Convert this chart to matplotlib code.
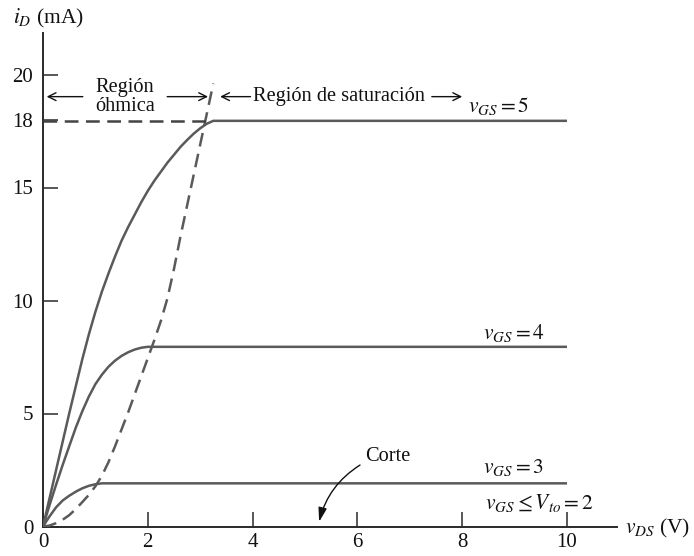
import matplotlib
matplotlib.use("Agg")
import matplotlib.pyplot as plt

plt.rcParams['font.family'] = ['Liberation Serif', 'DejaVu Serif']
plt.rcParams['mathtext.fontset'] = 'stix'

# ---- data ----
vds_5 = [0, 0.125, 0.25, 0.375, 0.5, 0.625, 0.75, 0.875, 1.0, 1.125, 1.25, 1.375, 1.5,
         1.625, 1.75, 1.875, 2.0, 2.125, 2.25, 2.375, 2.5, 2.625, 2.75, 2.875, 3.0,
         3.125, 3.25, 10]
id_5 = [0, 1.25, 2.5, 3.75, 5.0, 6.2, 7.4, 8.5, 9.5, 10.4, 11.2, 11.95, 12.65,
        13.25, 13.8, 14.35, 14.85, 15.3, 15.7, 16.1, 16.45, 16.8, 17.1, 17.38, 17.62,
        17.82, 17.95, 17.95]

vds_4 = [0, 0.125, 0.25, 0.375, 0.5, 0.625, 0.75, 0.875, 1.0, 1.125, 1.25, 1.375,
         1.5, 1.625, 1.75, 1.875, 2.0, 10]
id_4 = [0, 0.95, 1.85, 2.72, 3.55, 4.37, 5.1, 5.75, 6.3, 6.72, 7.07, 7.34,
        7.55, 7.71, 7.83, 7.91, 7.95, 7.95]

vds_3 = [0, 0.125, 0.25, 0.375, 0.5, 0.625, 0.75, 0.875, 1.0, 1.125, 10]
id_3 = [0, 0.45, 0.85, 1.15, 1.36, 1.54, 1.69, 1.8, 1.87, 1.91, 1.91]

vds_edge = [0, 0.125, 0.25, 0.375, 0.5, 0.625, 0.75, 0.875, 1.0, 1.125, 1.25, 1.375,
            1.5, 1.625, 1.75, 1.875, 2.0, 2.125, 2.25, 2.375, 2.5, 2.625, 2.75, 2.875,
            3.0, 3.125, 3.25]
id_edge = [0, 0.04, 0.15, 0.3, 0.5, 0.77, 1.08, 1.4, 1.78, 2.25, 2.85, 3.55,
           4.3, 5.05, 5.85, 6.65, 7.45, 8.25, 9.1, 10.1, 11.4, 12.85, 14.2, 15.55,
           16.9, 18.25, 19.6]

sat_line_x = [0, 3.2]
sat_line_y = [17.95, 17.95]

x_ticks = [0, 2, 4, 6, 8, 10]
y_ticks = [0, 5, 10, 15, 18, 20]

curve_labels = [r'$v_{GS} = 5$', r'$v_{GS} = 4$', r'$v_{GS} = 3$', r'$v_{GS} \leq V_{to} = 2$']

# ---- figure ----
W, H = 694, 556
fig = plt.figure(figsize=(W / 100, H / 100), dpi=100)
fig.patch.set_facecolor('white')
ax = fig.add_axes([43 / W, (H - 526.5) / H, (617 - 43) / W, (526.5 - 33) / H])
ax.set_xlim(0, (617 - 43) / 52.4)
ax.set_ylim(0, (526.5 - 33) / 22.6)

for s in ['top', 'right']:
    ax.spines[s].set_visible(False)
for s in ['left', 'bottom']:
    ax.spines[s].set_linewidth(1.4)
    ax.spines[s].set_color('#2a2a2a')

curve_color = '#5a5a5a'
lw = 1.8
for xs, ys in [(vds_5, id_5), (vds_4, id_4), (vds_3, id_3)]:
    ax.plot(xs, ys, color=curve_color, lw=lw, solid_capstyle='butt',
            solid_joinstyle='round', zorder=3)

ax.plot(vds_edge, id_edge, color=curve_color, lw=lw, dashes=(5.5, 3.0), zorder=3)
ax.plot(sat_line_x, sat_line_y, color='#444444', lw=lw, dashes=(5.5, 3.0), zorder=3)

ax.set_xticks(x_ticks)
ax.set_yticks(y_ticks)
ax.set_xticklabels([str(t) for t in x_ticks])
ax.set_yticklabels([str(t) for t in y_ticks])
ax.tick_params(axis='both', direction='in', length=10.8, width=1.1, color='#2a2a2a',
               labelsize=15, labelcolor='#111111')
ax.tick_params(axis='x', pad=5)
ax.tick_params(axis='y', pad=7)

fs = 14.7
fm = 15.5
tc = '#111111'
# curve labels
ax.text(8.11, 18.6, curve_labels[0], fontsize=fm, color=tc, ha='left', va='center')
ax.text(8.40, 8.56, curve_labels[1], fontsize=fm, color=tc, ha='left', va='center')
ax.text(8.40, 2.63, curve_labels[2], fontsize=fm, color=tc, ha='left', va='center')
ax.text(8.44, 1.04, curve_labels[3], fontsize=fm, color=tc, ha='left', va='center')

# region annotations
yr = 19.02
ax.text(1.565, yr, 'Región\nóhmica', fontsize=fs, color=tc, ha='center', va='center',
        linespacing=1.0)
arrow_kw = dict(arrowstyle='->', color='#111111', lw=1.0, shrinkA=0, shrinkB=0,
                mutation_scale=14)
ax.annotate('', xy=(0.07, yr), xytext=(0.76, yr), arrowprops=arrow_kw)
ax.annotate('', xy=(3.15, yr), xytext=(2.37, yr), arrowprops=arrow_kw)
ax.annotate('', xy=(3.38, yr), xytext=(3.96, yr), arrowprops=arrow_kw)
ax.text(4.0, yr, 'Región de saturación', fontsize=fs, color=tc, ha='left', va='center')
ax.annotate('', xy=(8.0, yr), xytext=(7.42, yr), arrowprops=arrow_kw)

# Corte
ax.text(6.15, 3.09, 'Corte', fontsize=fs, color=tc, ha='left', va='center')
ax.annotate('', xy=(5.27, 0.21), xytext=(6.05, 2.72),
            arrowprops=dict(arrowstyle='-|>,head_length=0.6,head_width=0.18', color='#111111',
                            lw=1.0, shrinkA=0, shrinkB=0, mutation_scale=14,
                            connectionstyle='arc3,rad=0.2'))

# axis labels
fig.text(13 / W, 1 - 18 / H, r'$i_D$ (mA)', fontsize=fm, color=tc, ha='left', va='center')
fig.text(625 / W, 1 - 528 / H, r'$v_{DS}$ (V)', fontsize=fm, color=tc, ha='left', va='center')

fig.savefig('out.png', dpi=100, facecolor='white')
